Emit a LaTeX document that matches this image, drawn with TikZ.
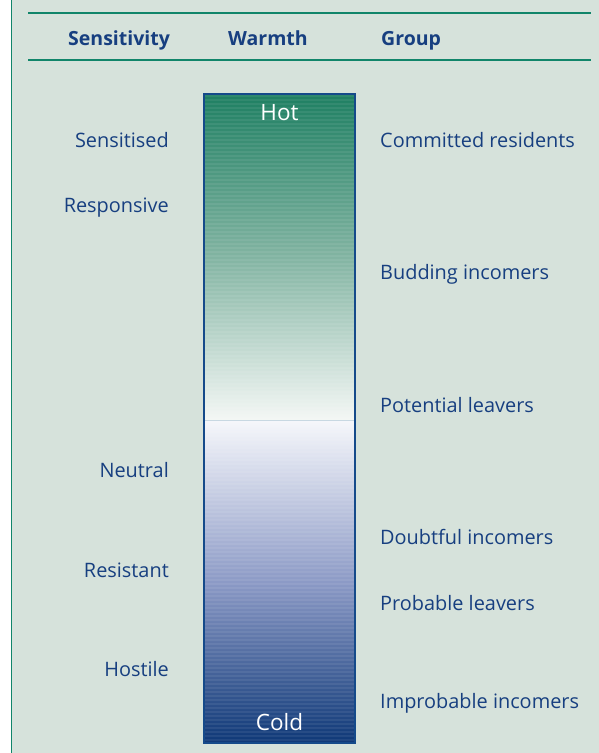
\documentclass[tikz,border=0pt]{standalone}
\usepackage{fontspec}
\setmainfont{Open Sans}
\definecolor{bgc}{HTML}{D6E2DB}
\definecolor{rulec}{HTML}{11856A}
\definecolor{txtc}{HTML}{173F80}
\definecolor{hotc}{HTML}{1E7F62}
\definecolor{midgr}{RGB}{130,180,162}
\definecolor{midg}{HTML}{F4F7F5}
\definecolor{midb}{HTML}{F6F7FB}
\definecolor{lavc}{RGB}{140,154,198}
\definecolor{coldc}{HTML}{0E3877}
\definecolor{barline}{HTML}{154A8A}
\definecolor{divc}{RGB}{200,216,226}
\tikzset{
  lbl/.style={text=txtc, font=\fontsize{19.9}{23}\selectfont, inner sep=0pt},
  lefttxt/.style={lbl, anchor=base east},
  righttxt/.style={lbl, anchor=base west},
  headtxt/.style={lbl, anchor=base west, font=\fontsize{19.5}{22}\selectfont\bfseries},
  bartxt/.style={text=white, font=\fontsize{22.5}{25}\selectfont, inner sep=0pt, anchor=base}
}
\begin{document}
\begin{tikzpicture}[x=1pt,y=-1pt]
\useasboundingbox (0,0) rectangle (599,753);
\fill[white] (0,0) rectangle (599,753);
\fill[bgc] (11,0) rectangle (599,753);
\draw[rulec, line width=1.5pt] (11.5,0) -- (11.5,753);
\draw[rulec, line width=2pt] (28,13) -- (591,13);
\draw[rulec, line width=1.4pt] (28,60) -- (591,60);
% headers
\node[headtxt] (hsens) at (68,45) {Sensitivity};
\node[headtxt] (hwarm) at (228,45) {Warmth};
\node[headtxt] (hgrp) at (381,45) {Group};
% bar
\shade[top color=hotc, bottom color=midg, middle color=midgr] (204,94) rectangle (355,420);
\shade[top color=midb, bottom color=coldc, middle color=lavc] (204,420) rectangle (355,743);
\foreach \yy in {96,100,...,740} {
  \draw[white, opacity=0.07, line width=1.2pt] (204,\yy) -- (355,\yy);
}
\draw[divc, line width=1pt] (204,420.5) -- (355,420.5);
\draw[barline, line width=1.5pt] (204,94) rectangle (355,743);
\node[bartxt] (hot) at (279.5,120) {Hot};
\node[bartxt] (cold) at (279.5,730) {Cold};
% left labels
\node[lefttxt] (s1) at (169,147) {Sensitised};
\node[lefttxt] (s2) at (169,212) {Responsive};
\node[lefttxt] (s3) at (169,477) {Neutral};
\node[lefttxt] (s4) at (169,577) {Resistant};
\node[lefttxt] (s5) at (169,676) {Hostile};
% right labels
\node[righttxt] (g1) at (380,147) {Committed residents};
\node[righttxt] (g2) at (380,279) {Budding incomers};
\node[righttxt] (g3) at (380,412) {Potential leavers};
\node[righttxt] (g4) at (380,544) {Doubtful incomers};
\node[righttxt] (g5) at (380,610) {Probable leavers};
\node[righttxt] (g6) at (380,708) {Improbable incomers};
\end{tikzpicture}
\end{document}
